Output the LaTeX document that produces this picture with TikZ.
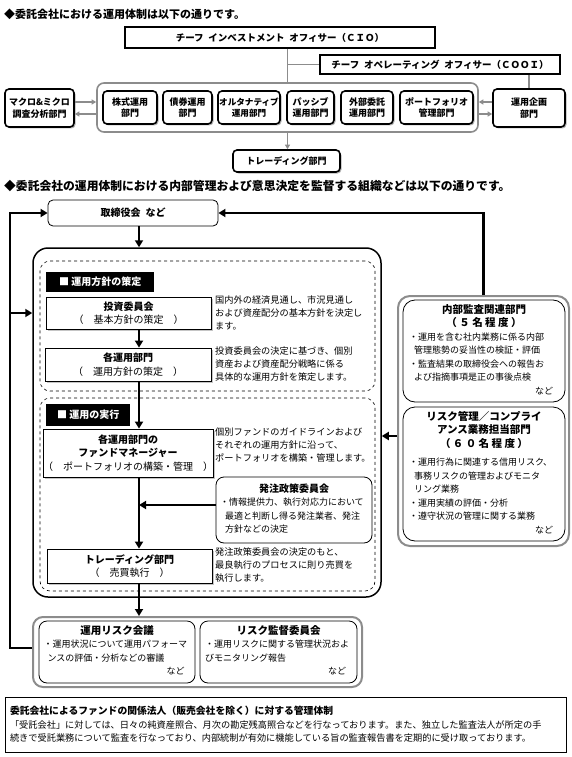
\documentclass[tikz,border=0pt]{standalone}
\usepackage{fontspec}
\setmainfont{Noto Sans CJK JP}
\usetikzlibrary{arrows.meta,shadows}
\tikzset{
  ttl/.style={anchor=west, inner sep=0pt, font=\fontsize{11}{13}\selectfont\bfseries},
  gl/.style={draw=black!45, line width=1.6pt},
  garr/.style={gl, -{Triangle[length=4.5pt,width=5pt]}},
  arr/.style={line width=2.6pt, -{Triangle[length=7pt,width=8pt]}},
  sq/.style={draw, line width=1.5pt, fill=white, inner sep=0pt, font=\fontsize{9.5}{11}\selectfont\bfseries},
  dpt/.style={draw, line width=1.6pt, rounded corners=4pt, fill=white, align=center, inner sep=0pt,
    font=\fontsize{9}{11.5}\selectfont\bfseries, drop shadow={shadow xshift=1.5pt, shadow yshift=-1.5pt, fill=black!60}},
  stp/.style={draw, line width=0.8pt, fill=white, align=center, inner sep=0pt,
    font=\fontsize{10}{13.5}\selectfont, drop shadow={shadow xshift=2pt, shadow yshift=-2pt, fill=black!45}},
  rbox/.style={draw, line width=0.8pt, rounded corners=8pt, fill=white, inner sep=0pt, font=\fontsize{9}{13.5}\selectfont},
  dsh/.style={draw, dashed, line width=0.6pt, rounded corners=10pt},
  lab/.style={fill=black, text=white, anchor=west, inner sep=0pt, minimum height=20pt, font=\fontsize{10}{11}\selectfont\bfseries},
  dsc/.style={anchor=north west, align=left, inner sep=0pt, font=\fontsize{9.2}{13}\selectfont},
}

\begin{document}
\begin{tikzpicture}[x=1pt, y=-1pt]
  \useasboundingbox (0,0) rectangle (571,757);

  % ---------- 運用体制 ----------
  \node[ttl] (t1) at (4,14) {◆委託会社における運用体制は以下の通りです。};
  \node[sq, minimum width=310, minimum height=21] (cio) at (280,37.5) {チーフ\enspace インベストメント\enspace オフィサー（ＣＩＯ）};
  \node[sq, minimum width=240, minimum height=19] (cooi) at (440,64.5) {チーフ\enspace オペレーティング\enspace オフィサー（ＣＯＯＩ）};
  \node[draw=black!45, line width=1.6pt, rounded corners=7pt, minimum width=381, minimum height=49] (grp) at (287.5,107.5) {};
  \node[dpt, minimum width=54, minimum height=33] (d1) at (130,107.5) {株式運用\\部門};
  \node[dpt, minimum width=49, minimum height=33] (d2) at (187.5,107.5) {債券運用\\部門};
  \node[dpt, minimum width=62, minimum height=33, font=\fontsize{8.6}{11.5}\selectfont\bfseries] (d3) at (249,107.5) {オルタナティブ\\運用部門};
  \node[dpt, minimum width=47, minimum height=33] (d4) at (310.5,107.5) {パッシブ\\運用部門};
  \node[dpt, minimum width=52, minimum height=33] (d5) at (367,107.5) {外部委託\\運用部門};
  \node[dpt, minimum width=73, minimum height=33] (d6) at (436.5,107.5) {ポートフォリオ\\管理部門};
  \node[dpt, minimum width=69, minimum height=38] (mac) at (39.5,108) {マクロ\&ミクロ\\調査分析部門};
  \node[dpt, minimum width=72, minimum height=38] (plan) at (529,108) {運用企画\\部門};
  \node[dpt, minimum width=107, minimum height=22] (trd) at (286.5,161) {トレーディング部門};

  \draw[gl] (grp.north |- cio.south) -- (grp.north);
  \draw[gl] (grp.north |- cooi.west) -- (cooi.west);
  \draw[gl] (plan.north |- cooi.south) -- (plan.north);
  \draw[garr] ([yshift=6pt]mac.east) -- ([yshift=6pt]mac.east -| grp.west);
  \draw[garr] ([yshift=-6pt]mac.east -| grp.west) -- ([yshift=-6pt]mac.east);
  \draw[garr] ([yshift=6pt]plan.west) -- ([yshift=6pt]plan.west -| grp.east);
  \draw[garr] ([yshift=-6pt]plan.west -| grp.east) -- ([yshift=-6pt]plan.west);
  \draw[garr] (grp.south) -- (grp.south |- trd.north);

  % ---------- 内部管理・意思決定 ----------
  \node[ttl, font=\fontsize{11.8}{13}\selectfont\bfseries] (t2) at (4,186) {◆委託会社の運用体制における内部管理および意思決定を監督する組織などは以下の通りです。};
  \coordinate (spine) at (139,0);
  \coordinate (lft) at (10,0);

  \node[rbox, rounded corners=5pt, minimum width=170, minimum height=26, font=\fontsize{10}{11}\selectfont\bfseries] (brd) at (133,213) {取締役会\enspace など};
  \node[draw, line width=1.5pt, rounded corners=15pt, minimum width=348, minimum height=349] (big) at (207,422.5) {};
  \node[dsh, minimum width=335, minimum height=130] (pol) at (207.5,326) {};
  \node[dsh, minimum width=335, minimum height=193] (exe) at (207.5,494.5) {};
  \node[lab, minimum width=108] (l1) at (46,282) {■ 運用方針の策定};
  \node[lab, minimum width=84, minimum height=22] (l2) at (46,415) {■ 運用の実行};

  \node[stp, minimum width=165, minimum height=32] (inv) at (128.5,313) {\textbf{投資委員会}\\（　基本方針の策定　）};
  \node[stp, minimum width=166, minimum height=33] (dep) at (128,364.5) {\textbf{各運用部門}\\（　運用方針の策定　）};
  \node[stp, minimum width=166, minimum height=48] (fm) at (128,453) {\textbf{各運用部門の}\\\textbf{ファンドマネージャー}\\（　ポートフォリオの構築・管理　）};
  \node[stp, minimum width=165, minimum height=34] (trd2) at (129.5,566) {\textbf{トレーディング部門}\\（　売買執行　）};

  \node[dsc] (di) at (215,296) {国内外の経済見通し、市況見通し\\および資産配分の基本方針を決定し\\ます。};
  \node[dsc] (dd) at (215,347) {投資委員会の決定に基づき、個別\\資産および資産配分戦略に係る\\具体的な運用方針を策定します。};
  \node[dsc] (df) at (215,428) {個別ファンドのガイドラインおよび\\それぞれの運用方針に沿って、\\ポートフォリオを構築・管理します。};
  \node[dsc] (dt) at (215,548) {発注政策委員会の決定のもと、\\最良執行のプロセスに則り売買を\\執行します。};

  \node[rbox, minimum width=156, minimum height=66] (ord) at (294,510) {\begin{tabular}{@{}p{148pt}@{}}
    \multicolumn{1}{c}{\fontsize{10}{13.5}\selectfont\bfseries 発注政策委員会}\\
    ・情報提供力、執行対応力において\\
    \hspace{5pt}最適と判断し得る発注業者、発注\\
    \hspace{5pt}方針などの決定
  \end{tabular}};

  % ---------- 右側 ----------
  \node[draw=black!45, line width=2pt, rounded corners=12pt, minimum width=171, minimum height=250] (rcol) at (483.5,421) {};
  \node[rbox, rounded corners=12pt, minimum width=162, minimum height=102] (ia) at (484,351) {\begin{tabular}{@{}p{150pt}@{}}
    \multicolumn{1}{c}{\fontsize{10.5}{13.5}\selectfont\bfseries 内部監査関連部門}\\
    \multicolumn{1}{c}{\fontsize{10.5}{13.5}\selectfont\bfseries （ ５ 名 程 度 ）}\\
    ・運用を含む社内業務に係る内部\\
    \hspace{5pt}管理態勢の妥当性の検証・評価\\
    ・監査結果の取締役会への報告お\\
    \hspace{5pt}よび指摘事項是正の事後点検\\
    \multicolumn{1}{r}{など}
  \end{tabular}};
  \node[rbox, rounded corners=12pt, minimum width=162, minimum height=134] (rc) at (484,474) {\begin{tabular}{@{}p{150pt}@{}}
    \multicolumn{1}{c}{\fontsize{10.5}{13.5}\selectfont\bfseries リスク管理／コンプライ}\\
    \multicolumn{1}{c}{\fontsize{10.5}{13.5}\selectfont\bfseries アンス業務担当部門}\\
    \multicolumn{1}{c}{\fontsize{10.5}{13.5}\selectfont\bfseries （ ６ ０ 名 程 度 ）}\\[5pt]
    ・運用行為に関連する信用リスク、\\
    \hspace{5pt}事務リスクの管理およびモニタ\\
    \hspace{5pt}リング業務\\
    ・運用実績の評価・分析\\
    ・遵守状況の管理に関する業務\\
    \multicolumn{1}{r}{など}
  \end{tabular}};

  % ---------- 下段 ----------
  \node[draw=black!45, line width=2pt, rounded corners=10pt, minimum width=329, minimum height=70] (bot) at (197.5,652) {};
  \node[rbox, minimum width=156, minimum height=62] (rk1) at (117,652) {\begin{tabular}{@{}p{147pt}@{}}
    \multicolumn{1}{c}{\fontsize{10.5}{13.5}\selectfont\bfseries 運用リスク会議}\\
    ・運用状況について運用パフォーマ\\
    \hspace{4pt}ンスの評価・分析などの審議\\
    \multicolumn{1}{r}{など}
  \end{tabular}};
  \node[rbox, minimum width=157, minimum height=62] (rk2) at (278.5,652) {\begin{tabular}{@{}p{147pt}@{}}
    \multicolumn{1}{c}{\fontsize{10.5}{13.5}\selectfont\bfseries リスク監督委員会}\\
    ・運用リスクに関する管理状況およ\\
    びモニタリング報告\\
    \multicolumn{1}{r}{など}
  \end{tabular}};

  % ---------- 矢印 ----------
  \draw[arr] (brd.south -| spine) -- (big.north -| spine);
  \draw[arr] (inv.south -| spine) -- (dep.north -| spine);
  \draw[arr] (dep.south -| spine) -- (fm.north -| spine);
  \draw[arr] (fm.south -| spine) -- (trd2.north -| spine);
  \draw[arr] (trd2.south -| spine) -- (bot.north -| spine);
  \draw[arr] ([yshift=5pt]ord.west) -- ([yshift=5pt]ord.west -| spine);
  \draw[arr] ([yshift=4pt]bot.west) -- ([yshift=4pt]bot.west -| lft) -- (brd.west -| lft) -- (brd.west);
  \draw[arr] (inv.west -| lft) -- (inv.west -| big.west);
  \draw[arr] (rcol.north) -- (rcol.north |- brd.east) -- (brd.east);
  \draw[arr] ([yshift=-15pt]rcol.west) -- ([yshift=-15pt]rcol.west -| big.east);

  % ---------- 管理体制 ----------
  \node[draw, line width=0.8pt, minimum width=561, minimum height=55, inner sep=5pt, text width=551, align=left,
        font=\fontsize{9.2}{13.5}\selectfont] (foot) at (285.5,724.5)
        {{\fontsize{9.8}{13.5}\selectfont\bfseries 委託会社によるファンドの関係法人（販売会社を除く）に対する管理体制}\\
         「受託会社」に対しては、日々の純資産照合、月次の勘定残高照合などを行なっております。また、独立した監査法人が所定の手\\
         続きで受託業務について監査を行なっており、内部統制が有効に機能している旨の監査報告書を定期的に受け取っております。};

\end{tikzpicture}
\end{document}
